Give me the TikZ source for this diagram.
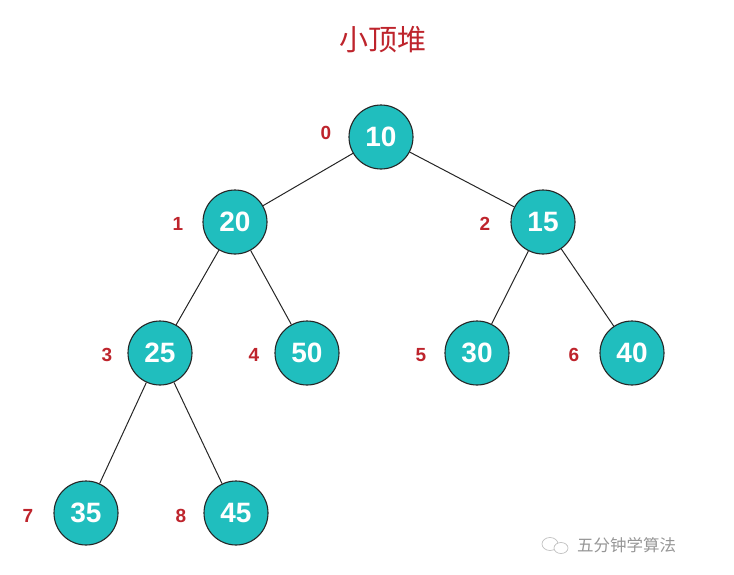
\documentclass[tikz,border=0pt]{standalone}
\usepackage{fontspec}
\setmainfont{Liberation Sans}
\newfontfamily\cjk{Noto Sans CJK SC}
\definecolor{heapfill}{RGB}{32,190,190}
\definecolor{idxred}{RGB}{190,36,44}
\definecolor{wmgray}{RGB}{150,150,150}
\begin{document}
\begin{tikzpicture}[x=1pt,y=-1pt,
  heapnode/.style={circle,draw=black!85,line width=1.1pt,fill=heapfill,minimum size=64pt,inner sep=0pt,text=white,font=\fontsize{28}{28}\selectfont\bfseries},
  idx/.style={text=idxred,font=\fontsize{19}{19}\selectfont\bfseries,inner sep=0pt},
  edge/.style={draw=black!85,line width=1pt}]
\useasboundingbox (0,0) rectangle (734,574);
\node[text=idxred,font=\cjk\fontsize{29}{29}\selectfont] (title) at (383,40) {小顶堆};
\node[heapnode] (n0) at (381,137) {10};
\node[heapnode] (n1) at (235,222) {20};
\node[heapnode] (n2) at (543,222) {15};
\node[heapnode] (n3) at (160,353) {25};
\node[heapnode] (n4) at (307,353) {50};
\node[heapnode] (n5) at (477,353) {30};
\node[heapnode] (n6) at (632,353) {40};
\node[heapnode] (n7) at (86,513) {35};
\node[heapnode] (n8) at (236,513) {45};
\node[idx] (i0) at (326,133) {0};
\node[idx] (i1) at (178,224) {1};
\node[idx] (i2) at (485,224) {2};
\node[idx] (i3) at (107,355) {3};
\node[idx] (i4) at (254,355) {4};
\node[idx] (i5) at (421,355) {5};
\node[idx] (i6) at (574,355) {6};
\node[idx] (i7) at (28,516) {7};
\node[idx] (i8) at (181,516) {8};
\path[edge] (n0) -- (n1);
\path[edge] (n0) -- (n2);
\path[edge] (n1) -- (n3);
\path[edge] (n1) -- (n4);
\path[edge] (n2) -- (n5);
\path[edge] (n2) -- (n6);
\path[edge] (n3) -- (n7);
\path[edge] (n3) -- (n8);
\draw[wmgray!60,line width=0.7pt] (550,544) ellipse (8pt and 6.5pt);
\draw[wmgray!60,line width=0.7pt,fill=white] (561,548) ellipse (7pt and 5.5pt);
\node[text=wmgray,font=\cjk\fontsize{16.5}{16.5}\selectfont,anchor=west,inner sep=0pt] (wm) at (577,545) {五分钟学算法};
\end{tikzpicture}
\end{document}
